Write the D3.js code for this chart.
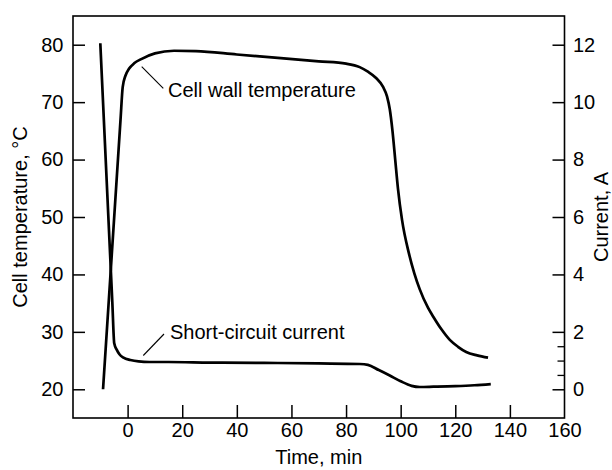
<!DOCTYPE html>
<html>
<head>
<meta charset="utf-8">
<script src="https://cdn.jsdelivr.net/npm/d3@7"></script>
<style>
  html, body { margin: 0; padding: 0; background: #fff; }
  svg { display: block; }
  text { font-family: "Liberation Sans", Arial, Helvetica, sans-serif; fill: #000; }
</style>
</head>
<body>
<svg id="chart" width="612" height="470"></svg>
<script>
// ---- data ----
const tempTime = [-9, -2.6, -1.8, -0.8, 0.5, 2.5, 5, 10, 17, 25, 40, 55, 70, 80, 85, 88, 91, 93.5, 95, 96, 97, 98, 99, 100.5, 103, 105, 107, 110, 112, 115, 118, 121, 124, 128, 132];
const tempValues = [20, 66.9, 72.6, 74.6, 75.8, 76.8, 77.5, 78.5, 78.95, 78.9, 78.3, 77.7, 77.1, 76.7, 76.1, 75.3, 74.2, 72.7, 71, 68.8, 65, 60, 55, 49.5, 43.7, 40.2, 37.4, 34.2, 32.6, 30.4, 28.6, 27.4, 26.5, 25.9, 25.5];
const currentTime = [-10, -5.6, -4.9, -4, -3, -1.5, 1, 4, 8, 15, 30, 50, 70, 85, 88, 92, 96, 100, 104, 107, 112, 120, 127, 133];
const currentValues = [12.05, 3.03, 1.6, 1.38, 1.22, 1.1, 1.02, 0.97, 0.95, 0.95, 0.93, 0.92, 0.9, 0.88, 0.85, 0.67, 0.48, 0.28, 0.12, 0.08, 0.09, 0.11, 0.14, 0.18];
const xTicks = [0, 20, 40, 60, 80, 100, 120, 140, 160];
const leftTicks = [20, 30, 40, 50, 60, 70, 80];
const rightTicks = [0, 2, 4, 6, 8, 10, 12];
const rightMinorTicks = [0.5, 1, 1.5];
const labels = { x: "Time, min", yLeft: "Cell temperature, \u00B0C", yRight: "Current, A",
                 temp: "Cell wall temperature", current: "Short-circuit current" };

// ---- layout ----
const L = 73, R = 564.5, T = 16, B = 418;
const FS = 20;
const svg = d3.select("#chart");
const x = d3.scaleLinear().domain([-20, 160]).range([L, R]);
const yL = d3.scaleLinear().domain([15, 85]).range([B, T]);
const yR = d3.scaleLinear().domain([-1, 13]).range([B, T]);

// frame
svg.append("rect").attr("x", L).attr("y", T).attr("width", R - L).attr("height", B - T)
  .attr("fill", "none").attr("stroke", "#000").attr("stroke-width", 1.6);

// bottom axis (ticks inward)
const xAxis = d3.axisBottom(x).tickValues(xTicks).tickSizeInner(-13).tickSizeOuter(0)
  .tickFormat(d3.format("d"));
const gx = svg.append("g").attr("transform", `translate(0,${B})`).call(xAxis);
gx.select(".domain").remove();
gx.selectAll(".tick line").attr("stroke", "#000").attr("stroke-width", 1.5)
  .attr("display", d => d === 160 ? "none" : null);
gx.selectAll(".tick text").attr("font-size", FS).attr("font-family", null).attr("dy", "0.71em").attr("y", 5);

// left axis
const yAxisL = d3.axisLeft(yL).tickValues(leftTicks).tickSizeInner(-12).tickSizeOuter(0);
const gl = svg.append("g").attr("transform", `translate(${L},0)`).call(yAxisL);
gl.select(".domain").remove();
gl.selectAll(".tick line").attr("stroke", "#000").attr("stroke-width", 1.5);
gl.selectAll(".tick text").attr("font-size", FS).attr("font-family", null).attr("x", -9.5);

// right axis
const yAxisR = d3.axisRight(yR).tickValues(rightTicks).tickSizeInner(-12).tickSizeOuter(0);
const gr = svg.append("g").attr("transform", `translate(${R},0)`).call(yAxisR);
gr.select(".domain").remove();
gr.selectAll(".tick line").attr("stroke", "#000").attr("stroke-width", 1.5);
gr.selectAll(".tick text").attr("font-size", FS).attr("font-family", null).attr("x", 8.5);
const yAxisRm = d3.axisRight(yR).tickValues(rightMinorTicks).tickSizeInner(-7).tickSizeOuter(0).tickFormat("");
const grm = svg.append("g").attr("transform", `translate(${R},0)`).call(yAxisRm);
grm.select(".domain").remove();
grm.selectAll(".tick line").attr("stroke", "#000").attr("stroke-width", 1.3);

// curves
const tempData = tempTime.map((t, i) => [t, tempValues[i]]);
const currData = currentTime.map((t, i) => [t, currentValues[i]]);
svg.append("path").datum(tempData)
  .attr("d", d3.line().x(d => x(d[0])).y(d => yL(d[1])).curve(d3.curveMonotoneX))
  .attr("fill", "none").attr("stroke", "#000").attr("stroke-width", 2.7).attr("stroke-linejoin", "round");
svg.append("path").datum(currData)
  .attr("d", d3.line().x(d => x(d[0])).y(d => yR(d[1])).curve(d3.curveMonotoneX))
  .attr("fill", "none").attr("stroke", "#000").attr("stroke-width", 2.7).attr("stroke-linejoin", "round");

// annotations
svg.append("line").attr("x1", 141.7).attr("y1", 66.7).attr("x2", 163.3).attr("y2", 88.3)
  .attr("stroke", "#000").attr("stroke-width", 1.1);
svg.append("text").attr("x", 168).attr("y", 96.5).attr("font-size", FS).text(labels.temp);
svg.append("line").attr("x1", 143.3).attr("y1", 355.5).attr("x2", 164).attr("y2", 334)
  .attr("stroke", "#000").attr("stroke-width", 1.1);
svg.append("text").attr("x", 170).attr("y", 339).attr("font-size", FS).text(labels.current);

// axis titles
svg.append("text").attr("x", (L + R) / 2).attr("y", 464).attr("text-anchor", "middle")
  .attr("font-size", FS).text(labels.x);
svg.append("text").attr("transform", `translate(27,${(T + B) / 2}) rotate(-90)`).attr("text-anchor", "middle")
  .attr("font-size", FS).text(labels.yLeft);
svg.append("text").attr("transform", `translate(608,${(T + B) / 2}) rotate(-90)`).attr("text-anchor", "middle")
  .attr("font-size", FS).text(labels.yRight);
</script>
</body>
</html>
